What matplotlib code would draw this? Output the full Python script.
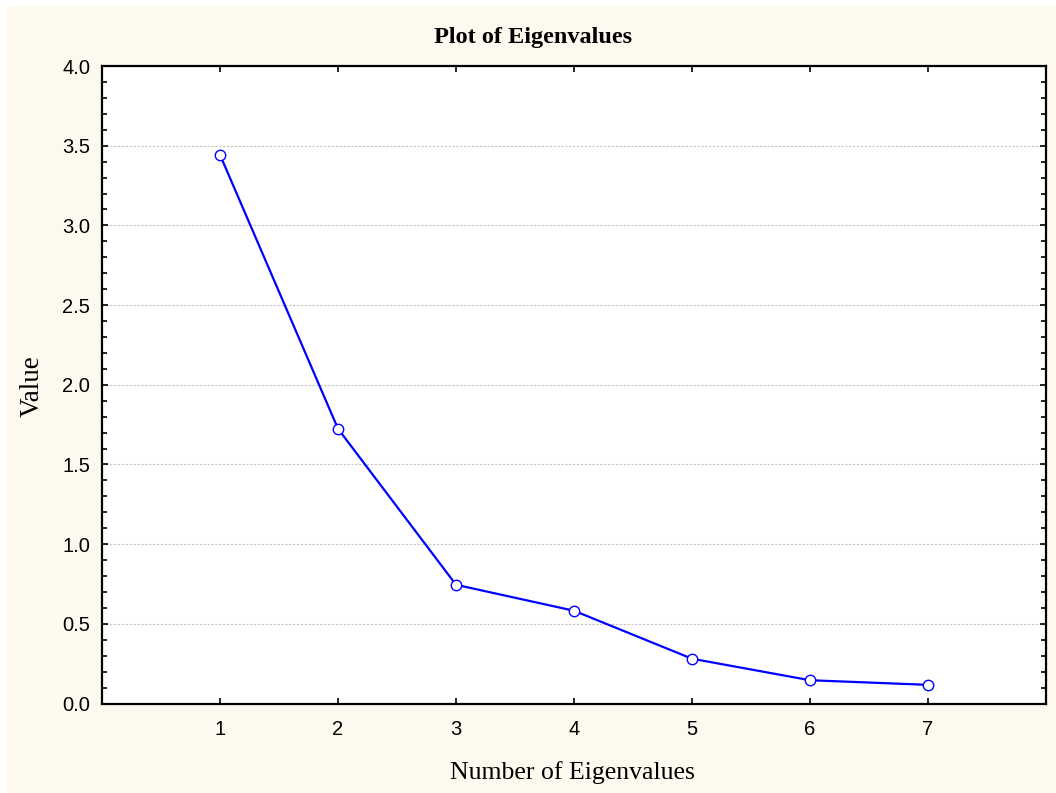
import matplotlib
matplotlib.use('Agg')
import matplotlib.pyplot as plt
from matplotlib.patches import Rectangle
from matplotlib.ticker import MultipleLocator

# eigenvalues from the factor analysis (scree plot)
components = [1, 2, 3, 4, 5, 6, 7]
eigenvalues = [3.443, 1.724, 0.745, 0.582, 0.281, 0.146, 0.117]
y_ticks = [0.0, 0.5, 1.0, 1.5, 2.0, 2.5, 3.0, 3.5, 4.0]

W, H = 1056, 793
fig = plt.figure(figsize=(W / 100, H / 100), dpi=100, facecolor='white')
# cream panel behind the plot, small white margin at top/left
fig.patches.append(Rectangle((6 / W, 0), 1 - 6 / W, 1 - 6 / H,
                             transform=fig.transFigure, facecolor='#fef9ee',
                             edgecolor='none', zorder=-10))

left, right, bottom, top = 102, 1046, 703.5, 66
ax = fig.add_axes([left / W, 1 - bottom / H, (right - left) / W, (bottom - top) / H])
ax.set_facecolor('white')

ax.plot(components, eigenvalues, color='#0000ff', lw=1.6, marker='o',
        markersize=7.5, markerfacecolor='white', markeredgecolor='#0000ff',
        markeredgewidth=1.0, zorder=3)

ax.set_xlim(0, 8)
ax.set_ylim(0, 4.0)
ax.set_xticks(components)
ax.set_yticks(y_ticks)
ax.set_yticklabels(['%.1f' % v for v in y_ticks])
ax.yaxis.set_minor_locator(MultipleLocator(0.1))

ax.grid(axis='y', which='major', color='#c4c4c4', lw=0.8, ls=(0, (2, 1.5)))
ax.set_axisbelow(True)

for s in ax.spines.values():
    s.set_linewidth(1.6)
    s.set_color('black')

ax.tick_params(axis='both', which='both', direction='in', top=True, right=True,
               color='black')
ax.tick_params(axis='x', which='major', length=4, width=1.2, pad=12)
ax.tick_params(axis='y', which='major', length=4, width=1.2, pad=8.5)
ax.tick_params(axis='y', which='minor', length=3.5, width=1.2)
for lab in ax.get_xticklabels() + ax.get_yticklabels():
    lab.set_fontfamily('Liberation Sans')
    lab.set_fontsize(14.5)

serif = 'Liberation Serif'
ax.set_xlabel('Number of Eigenvalues', fontfamily=serif, fontsize=18.5)
ax.set_ylabel('Value', fontfamily=serif, fontsize=19.5)
ax.xaxis.set_label_coords((572 - left) / (right - left), -(773 - bottom) / (bottom - top))
ax.xaxis.label.set_va('center')
ax.yaxis.set_label_coords((32 - left) / (right - left), (bottom - 386) / (bottom - top))
ax.yaxis.label.set_va('center')

fig.text(533 / W, 1 - 37 / H, 'Plot of Eigenvalues', ha='center', va='center',
         fontfamily=serif, fontweight='bold', fontsize=17.5)

fig.savefig('out.png', dpi=100, facecolor=fig.get_facecolor())
